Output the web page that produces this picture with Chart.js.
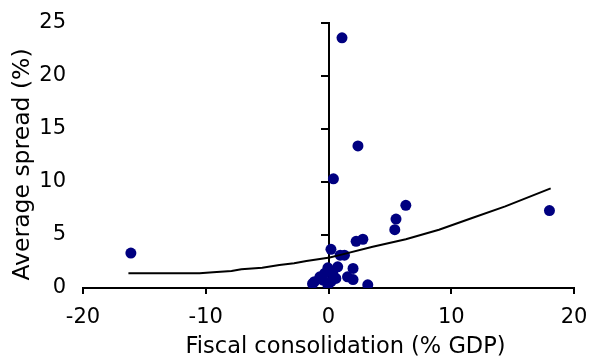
<!DOCTYPE html>
<html>
<head>
<meta charset="utf-8">
<script src="https://cdn.jsdelivr.net/npm/chart.js@4/dist/chart.umd.min.js"></script>
<style>
  body { margin: 0; background: #fff; }
  canvas { display: block; }
</style>
</head>
<body>
<canvas id="chart" width="590" height="359"></canvas>
<script>
// ===================== DATA =====================
const consolidation = [1.1, 2.4, 0.4, 6.3, 5.5, 5.4, 18.0, -16.1, 2.8, 2.25, 0.2, 0.95, 1.3, -0.05,
  0.75, 2.0, 0.35, -0.3, 1.55, 2.0, -1.15, -0.45, 0.2, -0.05, 3.2, -0.7, 0.6, -1.3];
const spread = [23.6, 13.4, 10.3, 7.8, 6.5, 5.5, 7.3, 3.3, 4.6, 4.4, 3.65, 3.1, 3.1, 1.9,
  2.0, 1.85, 1.4, 1.4, 1.05, 0.8, 0.6, 0.75, 0.6, 0.3, 0.3, 1.05, 0.9, 0.4];

// fitted curve
const fitX = [-16.3, -10.5, -9.4, -7.9, -7.1, -5.4, -4.0, -2.8, -1.8, -0.7, 0.1, 0.9, 3.6, 6.3, 9.0, 11.7, 14.4, 18.1];
const fitY = [1.39, 1.39, 1.48, 1.6, 1.76, 1.92, 2.17, 2.33, 2.55, 2.74, 2.88, 3.1, 3.9, 4.6, 5.5, 6.6, 7.7, 9.4];

const xTicks = [-20, -10, 0, 10, 20];
const yTicks = [0, 5, 10, 15, 20, 25];

const xTitle = "Fiscal consolidation (% GDP)";
const yTitle = "Average spread (%)";

const FAMILY = "'DejaVu Sans', Verdana, sans-serif";
const TICK_FONT = { family: FAMILY, size: 21 };

// no automatic label padding, layout.padding decides the plot box
function noPad(s) {
  s.paddingTop = 0; s.paddingBottom = 0; s.paddingLeft = 0; s.paddingRight = 0;
}

// axis titles sit a bit off-centre in the original, so draw them here
const axisTitles = {
  id: "axisTitles",
  afterDraw(chart) {
    const { ctx, chartArea } = chart;
    ctx.save();
    ctx.fillStyle = "#000";
    ctx.textAlign = "center";
    ctx.textBaseline = "middle";
    ctx.font = `22.5px ${FAMILY}`;
    ctx.fillText(xTitle, (chartArea.left + chartArea.right) / 2 + 17, chart.height - 12);
    ctx.font = `23.5px ${FAMILY}`;
    ctx.translate(23, (chartArea.top + chartArea.bottom) / 2 + 9);
    ctx.rotate(-Math.PI / 2);
    ctx.fillText(yTitle, 0, 0);
    ctx.restore();
  }
};

// ===================== CHART =====================
const points = consolidation.map((x, i) => ({ x, y: spread[i] }));
const curve = fitX.map((x, i) => ({ x, y: fitY[i] }));

new Chart(document.getElementById("chart"), {
  type: "scatter",
  data: {
    datasets: [
      {
        type: "line",
        data: curve,
        borderColor: "#000",
        borderWidth: 2,
        pointRadius: 0,
        fill: false,
        order: 0
      },
      {
        data: points,
        backgroundColor: "#000080",
        borderColor: "#000080",
        borderWidth: 0,
        pointRadius: 5.5,
        order: 1
      }
    ]
  },
  options: {
    responsive: false,
    animation: false,
    layout: { padding: { top: 23, right: 16, left: 0, bottom: 0 } },
    plugins: { legend: { display: false }, tooltip: { enabled: false } },
    scales: {
      x: {
        type: "linear",
        position: "bottom",
        min: -20, max: 20,
        afterBuildTicks: s => { s.ticks = xTicks.map(v => ({ value: v })); },
        ticks: { color: "#000", font: TICK_FONT, padding: 11, maxRotation: 0 },
        grid: { drawOnChartArea: false, drawTicks: true, tickLength: 6, color: "#000", lineWidth: 2 },
        border: { color: "#000", width: 2 },
        afterFit: s => { s.height = 71; noPad(s); }
      },
      y: {
        type: "linear",
        position: "left",
        min: 0, max: 25,
        afterBuildTicks: s => { s.ticks = yTicks.map(v => ({ value: v })); },
        ticks: { color: "#000", font: TICK_FONT, padding: 17 },
        grid: { display: false, drawTicks: false },
        border: { display: false },
        afterFit: s => { s.width = 83; noPad(s); }
      },
      yAxisLine: {
        type: "linear",
        axis: "y",
        position: { x: 0 },
        min: 0, max: 25,
        afterBuildTicks: s => { s.ticks = yTicks.map(v => ({ value: v })); },
        ticks: { display: false },
        grid: { drawOnChartArea: false, drawTicks: true, tickLength: 7, color: "#000", lineWidth: 2 },
        border: { color: "#000", width: 2 },
        afterFit: s => { noPad(s); }
      }
    }
  },
  plugins: [axisTitles]
});
</script>
</body>
</html>
